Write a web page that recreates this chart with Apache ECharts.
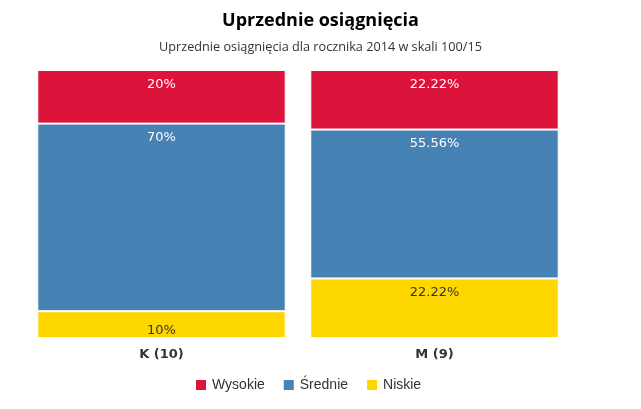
<!DOCTYPE html>
<html><head><meta charset="utf-8">
<script src="https://cdn.jsdelivr.net/npm/echarts@6/dist/echarts.min.js"></script>
<style>html,body{margin:0;padding:0;background:#fff}#c{width:641px;height:409px}</style>
</head><body><div id="c"></div>
<script>
const categories = ['K (10)', 'M (9)'];
const wysokie = [20, 22.22];
const srednie = [70, 55.56];
const niskie = [10, 22.22];
const seriesNames = ['Wysokie', 'Średnie', 'Niskie'];

const chart = echarts.init(document.getElementById('c'));
function lbl(color) {
  return {
    show: true, position: 'insideTop', distance: 8,
    color: color, fontSize: 13, fontFamily: 'DejaVu Sans',
    formatter: p => p.value + '%'
  };
}
const common = {
  type: 'bar', stack: 'total', barWidth: '91%',
  itemStyle: { borderColor: '#fff', borderWidth: 1 }
};
chart.setOption({
  animation: false,
  title: {
    text: 'Uprzednie osiągnięcia',
    subtext: 'Uprzednie osiągnięcia dla rocznika 2014 w skali 100/15',
    left: 'center', top: 7, itemGap: 11,
    textStyle: { fontFamily: 'Open Sans', fontWeight: 'bold', fontSize: 18, color: '#000' },
    subtextStyle: { fontFamily: 'Open Sans', fontSize: 12.7, color: '#333' }
  },
  legend: {
    data: seriesNames, left: 189, top: 373, itemWidth: 12, itemHeight: 12, itemGap: 17,
    icon: 'rect',
    textStyle: { fontFamily: 'Liberation Sans', fontSize: 14, color: '#333' }
  },
  grid: { left: 25, right: 70, top: 70, bottom: 71, containLabel: false },
  xAxis: {
    type: 'category', data: categories,
    axisLine: { show: false }, axisTick: { show: false },
    axisLabel: { fontFamily: 'DejaVu Sans', fontWeight: 'bold', fontSize: 13, color: '#333', margin: 10 }
  },
  yAxis: { type: 'value', min: 0, max: 100, show: false, splitLine: { show: false } },
  series: [
    Object.assign({}, common, {
      name: 'Niskie', color: '#FFD700', label: lbl('#333'),
      data: niskie.map((v, i) => i === 0 ? { value: v, label: { distance: 13 } } : v)
    }),
    Object.assign({}, common, { name: 'Średnie', color: '#4682B4', label: lbl('#fff'), data: srednie }),
    Object.assign({}, common, { name: 'Wysokie', color: '#DC143C', label: lbl('#fff'), data: wysokie })
  ]
});
</script></body></html>
